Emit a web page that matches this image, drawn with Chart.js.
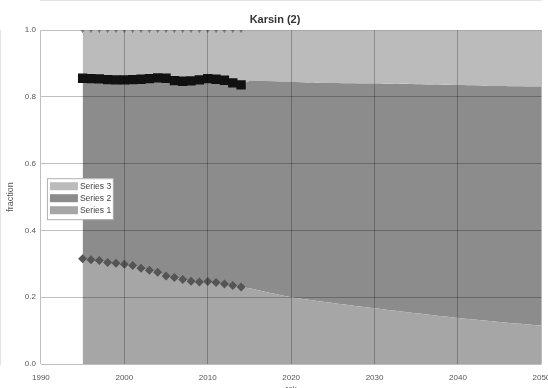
<!DOCTYPE html>
<html>
<head>
<meta charset="utf-8">
<script src="https://cdn.jsdelivr.net/npm/chart.js@4/dist/chart.umd.min.js"></script>
<style>
  html, body { margin: 0; padding: 0; background: #fff; overflow: hidden; }
  #chart { display: block; }
</style>
</head>
<body>
<canvas id="chart" width="548" height="388"></canvas>
<script>
// historical years with markers
const histYears = [1995, 1996, 1997, 1998, 1999, 2000, 2001, 2002, 2003, 2004,
                   2005, 2006, 2007, 2008, 2009, 2010, 2011, 2012, 2013, 2014];
// cumulative fraction, observed
const histSeries1 = [0.315, 0.312, 0.310, 0.304, 0.302, 0.299, 0.295, 0.287, 0.281, 0.275,
                     0.264, 0.259, 0.253, 0.248, 0.246, 0.247, 0.244, 0.240, 0.235, 0.231];
const histSeries2 = [0.856, 0.855, 0.854, 0.852, 0.851, 0.851, 0.852, 0.853, 0.855, 0.857,
                     0.856, 0.849, 0.847, 0.848, 0.851, 0.855, 0.853, 0.850, 0.842, 0.836];
const histSeries3 = [1, 1, 1, 1, 1, 1, 1, 1, 1, 1, 1, 1, 1, 1, 1, 1, 1, 1, 1, 1];

// projection (area upper boundaries)
const projYears   = [2015, 2020, 2025, 2030, 2035, 2040, 2045, 2050];
const projSeries1 = [0.227, 0.200, 0.183, 0.167, 0.152, 0.138, 0.126, 0.115];
const projSeries2 = [0.848, 0.845, 0.842, 0.840, 0.838, 0.836, 0.833, 0.831];
const projSeries3 = [1, 1, 1, 1, 1, 1, 1, 1];

const seriesNames  = ['Series 1', 'Series 2', 'Series 3'];
const seriesColors = ['#a6a6a6', '#8c8c8c', '#bbbbbb'];

const xTicks = [1990, 2000, 2010, 2020, 2030, 2040, 2050];
const yTicks = [0, 0.2, 0.4, 0.6, 0.8, 1.0];

function pts(xs, ys) {
    return xs.map((x, i) => ({ x: x, y: ys[i] }));
}

const areaYears = histYears.concat(projYears);
const areaTops = [
    histSeries1.concat(projSeries1),
    histSeries2.concat(projSeries2),
    histSeries3.concat(projSeries3)
];

const datasets = [];
areaTops.forEach((tops, i) => {
    datasets.push({
        label: seriesNames[i],
        data: pts(areaYears, tops),
        backgroundColor: seriesColors[i],
        borderWidth: 0,
        pointRadius: 0,
        fill: i === 0 ? 'origin' : i - 1,
        tension: 0.3,
        order: 2
    });
});

// marker series
datasets.push({
    label: 'm1',
    data: pts(histYears, histSeries1),
    showLine: false,
    pointStyle: 'rectRot',
    pointRadius: 4.5,
    pointBackgroundColor: '#555555',
    pointBorderWidth: 0,
    order: 0
});
datasets.push({
    label: 'm2',
    data: pts(histYears, histSeries2),
    showLine: false,
    pointStyle: 'rect',
    pointRadius: 6.6,
    pointBackgroundColor: '#111111',
    pointBorderWidth: 0,
    order: 0
});
datasets.push({
    label: 'm3',
    data: pts(histYears, histSeries3),
    showLine: false,
    pointStyle: 'triangle',
    rotation: 180,
    pointRadius: 3,
    pointBackgroundColor: '#7a7a7a',
    pointBorderWidth: 0,
    order: 0
});

// legend box drawn inside plot, like the original
const insideLegend = {
    id: 'insideLegend',
    afterDraw(chart) {
        const ctx = chart.ctx;
        const a = chart.chartArea;
        const bx = a.left + 6, by = a.top + 148, bw = 66, bh = 41;
        ctx.save();
        ctx.fillStyle = '#ffffff';
        ctx.fillRect(bx, by, bw, bh);
        ctx.strokeStyle = '#b0b0b0';
        ctx.lineWidth = 1;
        ctx.strokeRect(bx + 0.5, by + 0.5, bw, bh);
        ctx.font = '8.5px "Liberation Sans", Arial, sans-serif';
        ctx.textBaseline = 'middle';
        for (let i = 2; i >= 0; i--) {
            const row = 2 - i;
            const cy = by + 8 + row * 12;
            ctx.fillStyle = seriesColors[i];
            ctx.fillRect(bx + 3, cy - 4, 28, 8);
            ctx.fillStyle = '#444';
            ctx.fillText(seriesNames[i], bx + 33, cy + 0.5);
        }
        ctx.restore();
    }
};

const ctx = document.getElementById('chart').getContext('2d');
new Chart(ctx, {
    type: 'line',
    data: { datasets: datasets },
    options: {
        responsive: false,
        animation: false,
        devicePixelRatio: 1,
        layout: { padding: { left: 5, right: 3, top: 0, bottom: 0 } },
        plugins: {
            legend: { display: false },
            tooltip: { enabled: false },
            title: {
                display: true,
                text: 'Karsin (2)',
                color: '#333',
                font: { family: '"Liberation Sans", Arial, sans-serif', size: 11, weight: 'bold' },
                padding: { top: 13, bottom: 4 }
            }
        },
        scales: {
            x: {
                type: 'linear',
                min: 1990,
                max: 2050,
                afterBuildTicks: (scale) => { scale.ticks = xTicks.map(v => ({ value: v })); },
                // the original is cropped: last tick label and axis title run off the edge
                afterFit: (scale) => { scale.height = 24; scale.paddingRight = 0; },
                ticks: {
                    color: '#555',
                    font: { family: '"Liberation Sans", Arial, sans-serif', size: 8 },
                    padding: 9,
                    maxRotation: 0,
                    callback: (v) => String(v)
                },
                grid: { color: 'rgba(0,0,0,0.25)', z: 1, drawTicks: false },
                border: { color: '#c8c8c8' },
                title: {
                    display: true,
                    text: 'rok',
                    color: '#555',
                    font: { family: '"Liberation Sans", Arial, sans-serif', size: 8 },
                    padding: { top: 0, bottom: -6 }
                }
            },
            y: {
                min: 0,
                max: 1,
                afterBuildTicks: (scale) => { scale.ticks = yTicks.map(v => ({ value: v })); },
                ticks: {
                    color: '#555',
                    font: { family: '"Liberation Sans", Arial, sans-serif', size: 8 },
                    padding: 5,
                    callback: (v) => v.toFixed(1)
                },
                grid: { color: 'rgba(0,0,0,0.25)', z: 1, drawTicks: false },
                border: { color: '#c8c8c8' },
                title: {
                    display: true,
                    text: 'fraction',
                    color: '#555',
                    font: { family: '"Liberation Sans", Arial, sans-serif', size: 9 },
                    padding: { top: 0, bottom: 4 }
                }
            }
        }
    },
    plugins: [insideLegend]
});
</script>
</body>
</html>
